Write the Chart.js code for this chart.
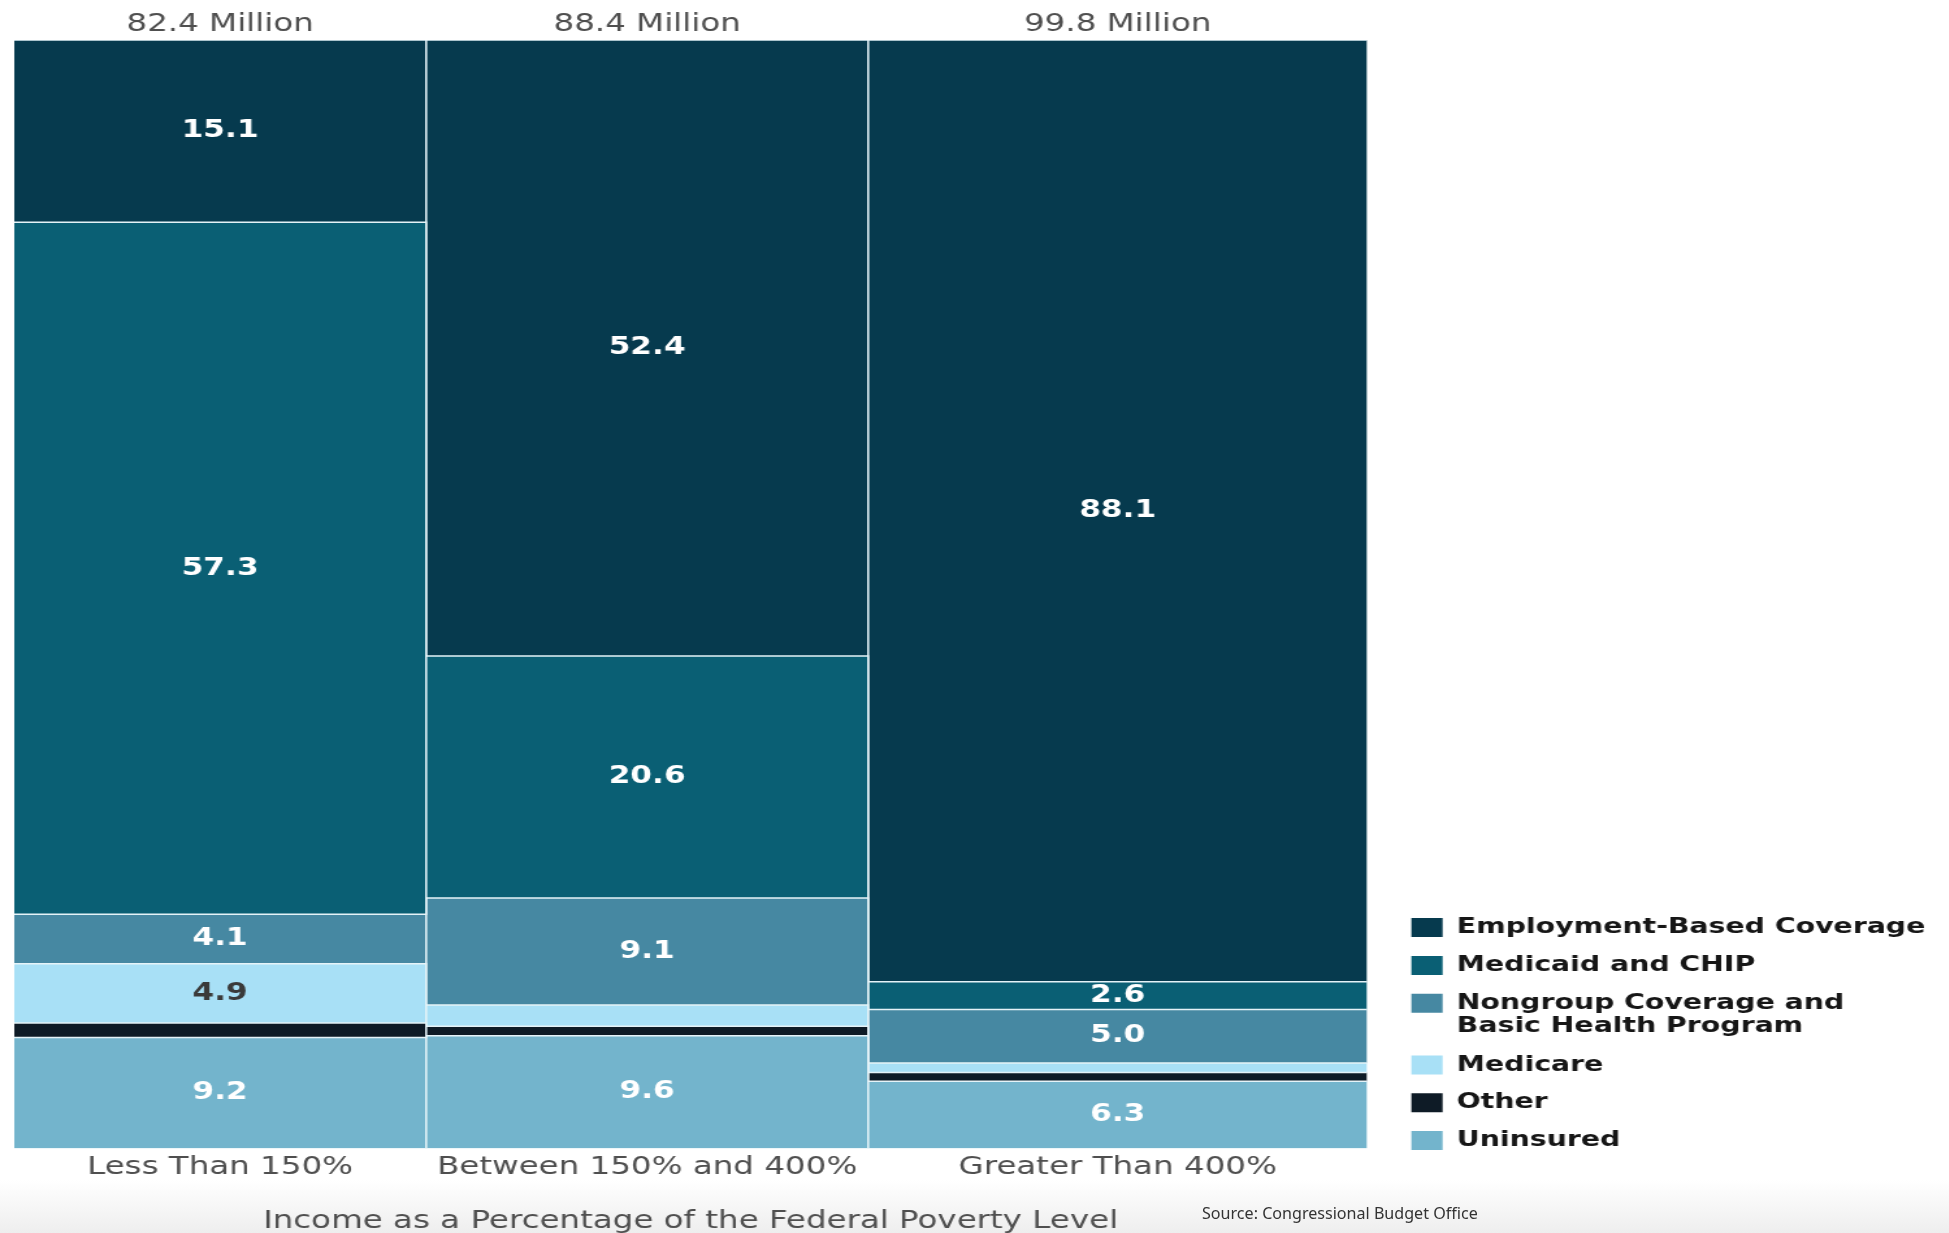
<!DOCTYPE html>
<html>
<head>
<meta charset="utf-8">
<title>Health Coverage by Income</title>
<script src="https://cdn.jsdelivr.net/npm/chart.js@4/dist/chart.umd.min.js"></script>
<style>
  html, body { margin: 0; padding: 0; background: #ffffff; }
  body { width: 1949px; height: 1233px; position: relative; overflow: hidden; }
  #shade { position: absolute; left: 0; right: 0; top: 1180px; bottom: 0;
           background: linear-gradient(to bottom, #ffffff, #eeeeee); }
  /* the chart is laid out narrow and widened, giving its broad lettering */
  #wrap { position: absolute; left: 0; top: 0; width: 1499px; height: 1233px;
          transform: scaleX(1.3); transform-origin: 0 0; }
  #source { position: absolute; left: 1202px; top: 1205px; font: 16.1px "Noto Sans", sans-serif;
            line-height: 1; color: #333333; white-space: nowrap; }
</style>
</head>
<body>
<div id="shade"></div>
<div id="wrap"><canvas id="chart"></canvas></div>
<div id="source">Source: Congressional Budget Office</div>
<script>
// Income bands and the number of people in each (millions)
const groups = ['Less Than 150%', 'Between 150% and 400%', 'Greater Than 400%'];
const groupPeople = [82.4, 88.4, 99.8];

// Coverage types, top of each column first
const coverageTypes = [
  'Employment-Based Coverage',
  'Medicaid and CHIP',
  'Nongroup Coverage and Basic Health Program',
  'Medicare',
  'Other',
  'Uninsured'
];

// Millions of people by coverage type in each income band
const employment = [15.1, 52.4, 88.1];
const medicaid   = [57.3, 20.6, 2.6];
const nongroup   = [4.1, 9.1, 5.0];
const medicare   = [4.9, 1.8, 0.9];
const other      = [1.2, 0.8, 0.8];
const uninsured  = [9.2, 9.6, 6.3];

const fillColors  = ['#063a4e', '#0a5f74', '#4688a2', '#a8e0f6', '#0e1b26', '#73b4cc'];
const labelColors = ['#ffffff', '#ffffff', '#ffffff', '#3a3a3a', '#ffffff', '#ffffff'];
const separator = '#e5f3f8';
const textGrey = '#4f4f4f';
const minLabelled = 2; // segments under 2 million carry no number

const series = [employment, medicaid, nongroup, medicare, other, uninsured];

// Column edges along the x axis: widths follow the population of each band
const edges = [0];
groupPeople.forEach(v => edges.push(edges[edges.length - 1] + v));
const total = edges[edges.length - 1];
const centers = groupPeople.map((v, j) => (edges[j] + edges[j + 1]) / 2);

// Each column is stacked to 100% of its own coverage count
const colSums = groups.map((g, j) => series.reduce((s, vals) => s + vals[j], 0));
const tops = series.map(() => []);
groups.forEach((g, j) => {
  let cum = 0;
  for (let k = series.length - 1; k >= 0; k--) {
    cum += series[k][j];
    tops[k][j] = 100 * cum / colSums[j];
  }
});
const bottomOf = (k, j) => (k < series.length - 1 ? tops[k + 1][j] : 0);

// One stepped outline per coverage type; the area between neighbours is the segment
const datasets = coverageTypes.map((name, k) => {
  const pts = groups.map((g, j) => ({ x: edges[j], y: tops[k][j] }));
  pts.push({ x: edges[edges.length - 1], y: tops[k][groups.length - 1] });
  return {
    label: name,
    data: pts,
    stepped: 'before',
    backgroundColor: fillColors[k],
    borderColor: separator,
    borderWidth: 1.5,
    pointRadius: 0,
    fill: k < series.length - 1 ? '+1' : 'origin'
  };
});

function wrapLabel(text, width) {
  const words = text.split(' ');
  const lines = [];
  let line = '';
  words.forEach(w => {
    const next = line ? line + ' ' + w : w;
    if (next.length > width && line) { lines.push(line); line = w; } else { line = next; }
  });
  lines.push(line);
  return lines.length > 1 ? lines : lines[0];
}

// Numbers printed in the middle of each segment
const valueLabels = {
  id: 'valueLabels',
  afterDatasetsDraw(chart) {
    const { ctx, scales: { x, y } } = chart;
    ctx.save();
    ctx.font = 'bold 24px "DejaVu Sans"';
    ctx.textAlign = 'center';
    ctx.textBaseline = 'middle';
    series.forEach((vals, k) => {
      vals.forEach((v, j) => {
        if (v < minLabelled) return;
        const cx = x.getPixelForValue(centers[j]);
        const cy = y.getPixelForValue((tops[k][j] + bottomOf(k, j)) / 2);
        ctx.fillStyle = labelColors[k];
        ctx.fillText(v.toFixed(1), cx, cy);
      });
    });
    ctx.restore();
  }
};

// Population of each band written above its column
const columnTitles = {
  id: 'columnTitles',
  afterDraw(chart) {
    const { ctx, chartArea, scales: { x } } = chart;
    ctx.save();
    ctx.font = '25px "DejaVu Sans"';
    ctx.fillStyle = textGrey;
    ctx.textAlign = 'center';
    ctx.textBaseline = 'middle';
    groupPeople.forEach((v, j) => {
      ctx.fillText(v.toFixed(1) + ' Million', x.getPixelForValue(centers[j]), chartArea.top - 16);
    });
    ctx.restore();
  }
};

// Shifts the legend block so it sits level with the foot of the plot
const legendPlacement = {
  id: 'legendPlacement',
  afterLayout(chart, args, opts) {
    const lg = chart.legend;
    if (!lg) return;
    lg.left += opts.dx; lg.right += opts.dx;
    lg.top += opts.dy; lg.bottom += opts.dy;
  }
};

const font = (size, lineHeight) => ({ family: 'DejaVu Sans', size, lineHeight: lineHeight || 1.2 });

new Chart(document.getElementById('chart'), {
  type: 'line',
  data: { datasets },
  plugins: [valueLabels, columnTitles, legendPlacement],
  options: {
    responsive: true,
    maintainAspectRatio: false,
    animation: false,
    events: [],
    layout: { padding: { left: 10.8, right: 26, top: 40, bottom: 0 } },
    scales: {
      x: {
        type: 'linear',
        min: 0,
        max: total,
        position: 'bottom',
        afterBuildTicks: s => { s.ticks = centers.map(v => ({ value: v })); },
        ticks: {
          callback: (v, i) => groups[i],
          font: font(25),
          color: textGrey,
          padding: 4,
          autoSkip: false,
          maxRotation: 0,
          minRotation: 0
        },
        grid: { display: false, drawTicks: false },
        border: { display: false },
        title: {
          display: true,
          text: 'Income as a Percentage of the Federal Poverty Level',
          font: font(25, 0.9),
          color: textGrey,
          padding: { top: 24, bottom: 0 }
        }
      },
      xDividers: {
        type: 'linear',
        min: 0,
        max: total,
        position: 'top',
        afterBuildTicks: s => { s.ticks = edges.slice(1, -1).map(v => ({ value: v })); },
        ticks: { display: false },
        grid: { color: separator, lineWidth: 1.6, drawTicks: false, z: 1 },
        border: { display: false }
      },
      y: { display: false, min: 0, max: 100 }
    },
    plugins: {
      filler: { drawTime: 'beforeDatasetsDraw' },
      tooltip: { enabled: false },
      legendPlacement: { dx: 18, dy: 19 },
      legend: {
        position: 'right',
        align: 'end',
        fullSize: false,
        labels: {
          boxWidth: 24,
          boxHeight: 19,
          padding: 16,
          color: '#161616',
          font: { family: 'DejaVu Sans', size: 21.8, weight: 'bold', lineHeight: 1.05 },
          generateLabels(chart) {
            const items = Chart.defaults.plugins.legend.labels.generateLabels(chart);
            return items.map(it => Object.assign(it, {
              text: wrapLabel(it.text, 26),
              lineWidth: 0,
              strokeStyle: 'rgba(0,0,0,0)'
            }));
          }
        }
      }
    }
  }
});
</script>
</body>
</html>
